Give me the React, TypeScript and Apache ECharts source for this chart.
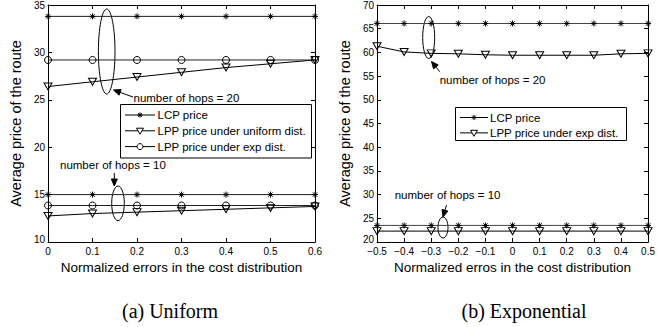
import React, { useEffect, useRef } from 'react';
import * as echarts from 'echarts';

// ---------- data ----------
const uniformX = [0, 0.1, 0.2, 0.3, 0.4, 0.5, 0.6];
const uniLcp20 = [33.8, 33.8, 33.8, 33.8, 33.8, 33.8, 33.8];
const uniLppUni20 = [26.4, 26.9, 27.4, 27.9, 28.4, 28.8, 29.2];
const uniLppExp20 = [29.2, 29.2, 29.2, 29.2, 29.2, 29.2, 29.2];
const uniLcp10 = [15.0, 15.0, 15.0, 15.0, 15.0, 15.0, 15.0];
const uniLppUni10 = [12.75, 13.0, 13.15, 13.3, 13.45, 13.6, 13.75];
const uniLppExp10 = [13.85, 13.85, 13.85, 13.85, 13.85, 13.85, 13.85];

const expX = [-0.5, -0.4, -0.3, -0.2, -0.1, 0, 0.1, 0.2, 0.3, 0.4, 0.5];
const expLcp20 = [66.1, 66.1, 66.1, 66.1, 66.1, 66.1, 66.1, 66.1, 66.1, 66.1, 66.1];
const expLppExp20 = [61.3, 60.1, 59.8, 59.7, 59.5, 59.4, 59.4, 59.4, 59.4, 59.7, 59.8];
const expLcp10 = [23.5, 23.5, 23.5, 23.5, 23.5, 23.5, 23.5, 23.5, 23.5, 23.5, 23.5];
const expLppExp10 = [22.3, 22.3, 22.3, 22.3, 22.3, 22.3, 22.3, 22.3, 22.3, 22.3, 22.3];

const LCP = 'LCP price';
const LPP_UNI = 'LPP price under uniform dist.';
const LPP_EXP = 'LPP price under exp dist.';

const xNameA = 'Normalized errors in the cost distribution';
const xNameB = 'Normalized erros in the cost distribution';
const yName = 'Average price of the route';
const hops20 = 'number of hops = 20';
const hops10 = 'number of hops = 10';
const captionA = '(a) Uniform';
const captionB = '(b) Exponential';

// ---------- styles ----------
const SANS = '"Liberation Sans", Arial, sans-serif';
const SERIF = '"Liberation Serif", "Times New Roman", serif';
const STAR = 'path://M5,0L5,10M0,5L10,5M1.46,1.46L8.54,8.54M1.46,8.54L8.54,1.46';
const TRI = 'path://M0,0L10,0L5,8.66Z';

type Sym = 'star' | 'tri' | 'circle';

function mkSeries(name: string, xs: number[], ys: number[], sym: Sym, lineColor: string) {
  const symbol = sym === 'star' ? STAR : sym === 'tri' ? TRI : 'circle';
  const size = sym === 'star' ? 6 : sym === 'tri' ? [8, 7] : 7;
  return {
    type: 'line',
    name,
    data: xs.map((x, i) => [x, ys[i]]),
    symbol,
    symbolSize: size,
    showAllSymbol: true,
    color: '#000',
    lineStyle: { color: lineColor, width: 1 },
    itemStyle: { color: 'rgba(0,0,0,0)', borderColor: '#000', borderWidth: 1 },
    clip: false,
    xAxisIndex: 0,
    yAxisIndex: 0,
  };
}

function axes(xmin: number, xmax: number, ymin: number, ymax: number, xName: string) {
  const common = {
    type: 'value',
    axisLine: { show: true, onZero: false, lineStyle: { color: '#000', width: 1 } },
    axisTick: { show: true, inside: true, length: 4, lineStyle: { color: '#000', width: 1 } },
    splitLine: { show: false },
  };
  const fmt = (v: number) => String(Math.round(v * 10) / 10).replace('-', '\u2212');
  const yfmt = (v: number) => (v === ymin ? '{m|' + v + '}' : String(v));
  return {
    xAxis: [
      {
        ...common,
        min: xmin,
        max: xmax,
        interval: 0.1,
        position: 'bottom',
        axisLabel: { fontSize: 10, color: '#000', margin: 4, fontFamily: SANS, formatter: fmt },
        name: xName,
        nameLocation: 'middle',
        nameGap: 17,
        nameTextStyle: { fontSize: 13.5, color: '#000', fontFamily: SANS },
      },
      { ...common, min: xmin, max: xmax, interval: 0.1, position: 'top', axisLabel: { show: false } },
    ],
    yAxis: [
      {
        ...common,
        min: ymin,
        max: ymax,
        interval: 5,
        position: 'left',
        axisLabel: {
          fontSize: 10,
          color: '#000',
          margin: 3,
          fontFamily: SANS,
          formatter: yfmt,
          rich: { m: { fontSize: 10, color: '#000', fontFamily: SANS, padding: [0, 0, 6, 0] } },
        },
        name: yName,
        nameLocation: 'middle',
        nameGap: 19,
        nameTextStyle: { fontSize: 14.5, color: '#000', fontFamily: SANS },
      },
      { ...common, min: ymin, max: ymax, interval: 5, position: 'right', axisLabel: { show: false } },
    ],
  };
}

const K = { stroke: '#000', lineWidth: 1 };

function arrow(x1: number, y1: number, x2: number, y2: number) {
  const dx = x2 - x1;
  const dy = y2 - y1;
  const len = Math.sqrt(dx * dx + dy * dy);
  const ux = dx / len;
  const uy = dy / len;
  const hl = 7;
  const hw = 3;
  const bx = x2 - ux * hl;
  const by = y2 - uy * hl;
  return [
    { type: 'line', shape: { x1, y1, x2: bx, y2: by }, style: { ...K } },
    {
      type: 'polygon',
      shape: { points: [[x2, y2], [bx - uy * hw, by + ux * hw], [bx + uy * hw, by - ux * hw]] },
      style: { fill: '#000', ...K },
    },
  ];
}

function ellipse(cx: number, cy: number, rx: number, ry: number) {
  return { type: 'ellipse', shape: { cx, cy, rx, ry }, style: { fill: 'none', ...K } };
}

function label(text: string, x: number, y: number) {
  return {
    type: 'text',
    x,
    y,
    z: 10,
    style: { text, fontSize: 11.5, fontFamily: SANS, fill: '#000', verticalAlign: 'middle', align: 'left' },
  };
}

function caption(text: string, x: number, y: number) {
  return {
    type: 'text',
    x,
    y,
    style: { text, fontSize: 20, fontFamily: SERIF, fill: '#000', verticalAlign: 'middle', align: 'center' },
  };
}

function marker(sym: Sym, cx: number, cy: number): any[] {
  if (sym === 'star') {
    const r = 2.6;
    const d = r * 0.707;
    return [
      { type: 'line', shape: { x1: cx, y1: cy - r, x2: cx, y2: cy + r }, style: { ...K } },
      { type: 'line', shape: { x1: cx - r, y1: cy, x2: cx + r, y2: cy }, style: { ...K } },
      { type: 'line', shape: { x1: cx - d, y1: cy - d, x2: cx + d, y2: cy + d }, style: { ...K } },
      { type: 'line', shape: { x1: cx - d, y1: cy + d, x2: cx + d, y2: cy - d }, style: { ...K } },
    ];
  }
  if (sym === 'tri') {
    return [
      {
        type: 'polygon',
        shape: { points: [[cx - 3.5, cy - 2.6], [cx + 3.5, cy - 2.6], [cx, cy + 3.4]] },
        style: { fill: '#fff', ...K },
      },
    ];
  }
  return [{ type: 'circle', shape: { cx, cy, r: 3 }, style: { fill: '#fff', ...K } }];
}

function legendBox(
  items: { name: string; sym: Sym }[],
  x: number,
  y: number,
  w: number,
  h: number,
  firstY: number,
  step: number,
  lineX1: number,
  lineX2: number,
  textX: number,
) {
  const els: any[] = [
    { type: 'rect', shape: { x, y, width: w, height: h }, style: { fill: '#fff', ...K }, z: 5 },
  ];
  items.forEach((it, i) => {
    const cy = firstY + i * step;
    els.push({ type: 'line', shape: { x1: lineX1, y1: cy, x2: lineX2, y2: cy }, style: { ...K }, z: 6 });
    marker(it.sym, (lineX1 + lineX2) / 2, cy).forEach((m) => els.push({ ...m, z: 7 }));
    els.push({
      type: 'text',
      x: textX,
      y: cy,
      z: 7,
      style: { text: it.name, fontSize: 11.5, fontFamily: SANS, fill: '#000', verticalAlign: 'middle', align: 'left' },
    });
  });
  return els;
}

const optionA = {
  animation: false,
  backgroundColor: '#fff',
  grid: { left: 37, top: 4, width: 278, height: 238, containLabel: false },
  ...axes(0, 0.6, 10, 35, xNameA),
  series: [
    mkSeries(LCP, uniformX, uniLcp20, 'star', '#222'),
    mkSeries(LPP_UNI, uniformX, uniLppUni20, 'tri', '#000'),
    mkSeries(LPP_EXP, uniformX, uniLppExp20, 'circle', '#222'),
    mkSeries(LCP, uniformX, uniLcp10, 'star', '#222'),
    mkSeries(LPP_UNI, uniformX, uniLppUni10, 'tri', '#000'),
    mkSeries(LPP_EXP, uniformX, uniLppExp10, 'circle', '#222'),
  ],
  graphic: [
    ellipse(106.7, 51.5, 8.3, 42.5),
    ...arrow(133, 97, 113.5, 90),
    label(hops20, 133.5, 98),
    ...legendBox(
      [
        { name: LCP, sym: 'star' },
        { name: LPP_UNI, sym: 'tri' },
        { name: LPP_EXP, sym: 'circle' },
      ],
      120.5, 104.5, 191, 53.5, 115, 15.8, 125, 155, 157.5,
    ),
    label(hops10, 60, 165),
    ...arrow(114.3, 173, 114.3, 186),
    ellipse(118, 203.3, 6.3, 17.3),
    caption(captionA, 170, 311),
  ],
};

const OFF = 329;
const optionB = {
  animation: false,
  backgroundColor: '#fff',
  grid: { left: 47, top: 4, width: 277, height: 238, containLabel: false },
  ...axes(-0.5, 0.5, 20, 70, xNameB),
  series: [
    mkSeries(LCP, expX, expLcp20, 'star', '#444'),
    mkSeries(LPP_EXP, expX, expLppExp20, 'tri', '#000'),
    mkSeries(LCP, expX, expLcp10, 'star', '#444'),
    mkSeries(LPP_EXP, expX, expLppExp10, 'tri', '#000'),
  ],
  graphic: [
    ellipse(428.7 - OFF, 37.5, 6, 21),
    ...arrow(439.7 - OFF, 71.7, 431.5 - OFF, 61.5),
    label(hops20, 439.7 - OFF, 80),
    ...legendBox(
      [
        { name: LCP, sym: 'star' },
        { name: LPP_EXP, sym: 'tri' },
      ],
      455.5 - OFF, 107.5, 171, 33, 117.5, 15.4, 460 - OFF, 488 - OFF, 490 - OFF,
    ),
    label(hops10, 394.7 - OFF, 195),
    ...arrow(446.5 - OFF, 205, 443 - OFF, 217),
    ellipse(443 - OFF, 227.5, 5, 10.5),
    caption(captionB, 524 - OFF, 311),
  ],
};

function Chart({ option }: { option: any }) {
  const ref = useRef<HTMLDivElement>(null);
  useEffect(() => {
    if (!ref.current) return;
    const chart = echarts.init(ref.current, undefined, { renderer: 'svg' });
    chart.setOption(option);
    return () => chart.dispose();
  }, [option]);
  return <div ref={ref} style={{ width: 329, height: 327 }} />;
}

export default function App() {
  useEffect(() => {
    document.body.style.margin = '0';
  }, []);
  return (
    <div style={{ display: 'flex', width: 658, height: 327, background: '#fff' }}>
      <Chart option={optionA} />
      <Chart option={optionB} />
    </div>
  );
}
